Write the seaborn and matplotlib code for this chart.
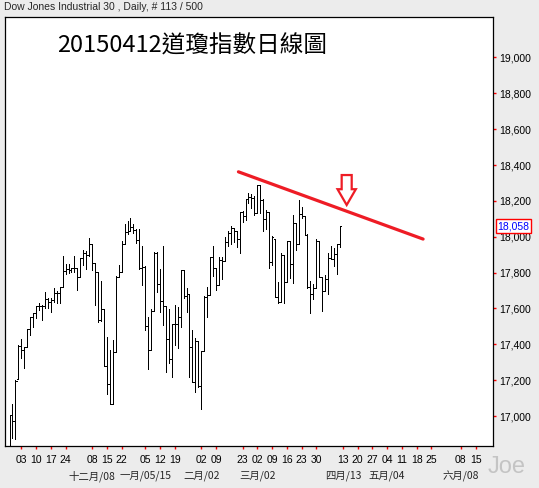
import numpy as np
import pandas as pd
import matplotlib
matplotlib.use('Agg')
import matplotlib.pyplot as plt
import matplotlib.transforms as mtransforms
from matplotlib.patches import FancyArrow
from matplotlib.ticker import StrMethodFormatter
import seaborn as sns

# Dow Jones Industrial 30, daily bars, 2014-10-28 .. 2015-04-10 (113 sessions)
holidays = ['2014-11-27', '2014-12-25', '2015-01-01', '2015-01-19',
            '2015-02-16', '2015-04-03']

bar_open = [
    16819, 17005, 16974, 17209, 17392, 17366, 17385, 17484, 17554, 17573,
    17614, 17614, 17612, 17652, 17635, 17648, 17688, 17686, 17720, 17810,
    17818, 17815, 17828, 17828, 17777, 17880, 17912, 17900, 17959, 17853,
    17801, 17533, 17597, 17281, 17180, 17069, 17356, 17778, 17804, 17959,
    18024, 18030, 18053, 18038, 17983, 17823, 17833, 17501, 17371, 17584,
    17907, 17737, 17640, 17613, 17427, 17320, 17511, 17515, 17554, 17813,
    17672, 17678, 17387, 17191, 17416, 17165, 17361, 17666, 17673, 17885,
    17824, 17729, 17868, 17862, 17973, 18019, 18047, 18030, 17986, 18140,
    18117, 18209, 18224, 18214, 18133, 18288, 18204, 18097, 18136, 17857,
    17990, 17662, 17635, 17896, 17749, 17977, 17849, 18076, 17959, 18128,
    18116, 18012, 17718, 17678, 17712, 17976, 17776, 17698, 17763, 17880,
    17876, 17903, 17958]
bar_high = [
    17006, 17068, 17200, 17395, 17428, 17384, 17485, 17555, 17577, 17614,
    17630, 17620, 17690, 17656, 17660, 17712, 17700, 17720, 17894, 17850,
    17850, 17828, 17894, 17828, 17880, 17925, 17921, 17991, 17959, 17853,
    17801, 17755, 17597, 17441, 17366, 17426, 17779, 17843, 17976, 18069,
    18086, 18103, 18073, 18043, 18043, 17951, 17837, 17551, 17598, 17916,
    17916, 17820, 17951, 17613, 17597, 17516, 17622, 17608, 17814, 17813,
    17712, 17678, 17482, 17436, 17420, 17361, 17667, 17720, 17885, 17951,
    17824, 17887, 17886, 17997, 18031, 18058, 18047, 18030, 18140, 18141,
    18209, 18244, 18236, 18227, 18288, 18288, 18210, 18150, 18137, 18005,
    17990, 17745, 17907, 17898, 17977, 17977, 18123, 18076, 18206, 18167,
    18116, 18016, 17755, 17737, 17986, 17976, 17776, 17789, 17910, 17950,
    17936, 17960, 18058]
bar_low = [
    16819, 16880, 16870, 17209, 17323, 17268, 17384, 17452, 17497, 17549,
    17590, 17538, 17600, 17600, 17580, 17636, 17628, 17630, 17720, 17790,
    17796, 17801, 17802, 17705, 17776, 17844, 17820, 17895, 17812, 17620,
    17522, 17530, 17280, 17123, 17067, 17069, 17356, 17778, 17804, 17959,
    18017, 18030, 18021, 17967, 17820, 17731, 17479, 17262, 17371, 17584,
    17689, 17579, 17505, 17243, 17298, 17219, 17395, 17380, 17498, 17660,
    17581, 17216, 17190, 17136, 17164, 17037, 17361, 17555, 17673, 17781,
    17705, 17729, 17764, 17862, 17950, 17962, 17970, 17940, 17908, 18080,
    18095, 18190, 18160, 18120, 18133, 18132, 18030, 18045, 17824, 17840,
    17662, 17630, 17635, 17630, 17749, 17768, 17740, 17925, 17959, 18102,
    18011, 17712, 17577, 17652, 17712, 17773, 17585, 17698, 17678, 17875,
    17838, 17790, 17940]
bar_close = [
    17005, 16974, 17195, 17391, 17366, 17384, 17484, 17554, 17573, 17613,
    17614, 17612, 17652, 17635, 17648, 17688, 17686, 17720, 17810, 17818,
    17815, 17828, 17828, 17777, 17880, 17912, 17900, 17959, 17853, 17801,
    17533, 17597, 17281, 17180, 17068, 17356, 17778, 17804, 17959, 18024,
    18030, 18053, 18038, 17983, 17823, 17833, 17501, 17371, 17584, 17907,
    17737, 17640, 17613, 17427, 17320, 17511, 17515, 17554, 17813, 17672,
    17678, 17387, 17191, 17416, 17165, 17361, 17666, 17673, 17885, 17824,
    17729, 17868, 17862, 17973, 18019, 18047, 18030, 17986, 18140, 18117,
    18209, 18224, 18214, 18133, 18288, 18204, 18097, 18136, 17857, 17996,
    17662, 17635, 17896, 17749, 17977, 17849, 18076, 17959, 18128, 18116,
    18012, 17718, 17678, 17712, 17976, 17776, 17698, 17763, 17880, 17876,
    17903, 17958, 18058]
last_price = 18058

# week ticks (mondays) and month labels
tick_dates = ['2014-11-03', '2014-11-10', '2014-11-17', '2014-11-24',
              '2014-12-08', '2014-12-15', '2014-12-22', '2015-01-05',
              '2015-01-12', '2015-01-19', '2015-02-02', '2015-02-09',
              '2015-02-23', '2015-03-02', '2015-03-09', '2015-03-16',
              '2015-03-23', '2015-03-30', '2015-04-13', '2015-04-20',
              '2015-04-27', '2015-05-04', '2015-05-11', '2015-05-18',
              '2015-05-25', '2015-06-08', '2015-06-15']
tick_labels = ['03', '10', '17', '24', '08', '15', '22', '05', '12', '19',
               '02', '09', '23', '02', '09', '16', '23', '30', '13', '20',
               '27', '04', '11', '18', '25', '08', '15']
month_dates = ['2014-12-08', '2015-01-05', '2015-02-02', '2015-03-02',
               '2015-04-13', '2015-05-04', '2015-06-08']
month_labels = ['十二月/08', '一月/05/15', '二月/02', '三月/02',
                '四月/13', '五月/04', '六月/08']

# hand drawn resistance line (in bar index / price)
trend_x = [77.6, 140.2]
trend_y = [18362, 17987]
arrow_x = 114.3
arrow_top = 18344
arrow_tip = 18177

# Build the frame on a trading-day index
dates = pd.bdate_range('2014-10-28', '2015-04-10', freq='C', holidays=holidays)
df = pd.DataFrame({'Date': dates, 'Open': bar_open, 'High': bar_high,
                   'Low': bar_low, 'Close': bar_close})
df['x'] = np.arange(len(df))
tick_pos = [np.busday_count('2014-10-28', d, holidays=holidays) for d in tick_dates]
month_pos = [np.busday_count('2014-10-28', d, holidays=holidays) for d in month_dates]

sns.set_theme(style='white')
plt.rcParams['font.family'] = ['Liberation Sans', 'Noto Sans CJK TC']
cjk = ['Noto Sans CJK TC', 'DejaVu Sans']

fig, ax = plt.subplots(figsize=(5.39, 4.88), dpi=100)
fig.patch.set_facecolor('#ececec')
ax.set_facecolor('white')
ax.set_position([5 / 539, 42 / 488, 488 / 539, 429.3 / 488])

# OHLC bars, thin 1px strokes
bar_kw = dict(color='black', lw=0.55, antialiased=False)
ax.vlines(df['x'], df['Low'], df['High'], **bar_kw)
ax.hlines(df['Open'], df['x'] - 0.45, df['x'], **bar_kw)
ax.hlines(df['Close'], df['x'], df['x'] + 0.45, **bar_kw)

# trend line + arrow
sns.lineplot(x=trend_x, y=trend_y, color='#ee1c25', lw=2.3, ax=ax)
ax.add_patch(FancyArrow(arrow_x, arrow_top, 0, arrow_tip - arrow_top,
                        width=3.4, head_width=6.2, head_length=88,
                        length_includes_head=True, fill=False,
                        ec='#ee1c25', lw=1.6))

ax.set_xlim(-1.53, 163.9)
ax.set_ylim(16833, 19227)

ax.set_xticks(tick_pos)
ax.set_xticklabels(tick_labels)
ax.set_yticks(range(17000, 19001, 200))
ax.yaxis.set_major_formatter(StrMethodFormatter('{x:,.0f}'))
ax.yaxis.tick_right()
ax.tick_params(axis='x', bottom=True, direction='out', length=2.2, width=1,
               color='red', labelcolor='black', labelsize=7.5, pad=4)
ax.tick_params(axis='y', right=True, left=False, labelright=True,
               labelleft=False, direction='out', length=2.2, width=1,
               color='red', labelcolor='black', labelsize=7.5, pad=2.5)
for s in ax.spines.values():
    s.set_color('black')
    s.set_linewidth(0.9)

# month row under the week numbers
for p, lab in zip(month_pos, month_labels):
    ax.text(p, -0.070, lab, transform=ax.get_xaxis_transform(), ha='center',
            va='center', fontsize=7.5, family=cjk)

# last price box
trans = mtransforms.blended_transform_factory(ax.transAxes, ax.transData)
ax.text(1.0094, last_price, f'{last_price:,}', transform=trans, color='blue',
        fontsize=7.5, ha='left', va='center',
        bbox=dict(boxstyle='square,pad=0.18', fc='white', ec='red', lw=1))

ax.text(0.383, 0.932, '20150412道瓊指數日線圖', transform=ax.transAxes,
        ha='center', va='center', fontsize=17, family=cjk, color='black')
fig.text(4 / 539, 1 - 7.5 / 488, 'Dow Jones Industrial 30 , Daily, # 113 / 500',
         ha='left', va='center', fontsize=7.5)
fig.text(507 / 539, 1 - 467 / 488, 'Joe', ha='center', va='center',
         fontsize=17, color='#c4c4c4')

fig.savefig('out.png', dpi=100, facecolor=fig.get_facecolor())
